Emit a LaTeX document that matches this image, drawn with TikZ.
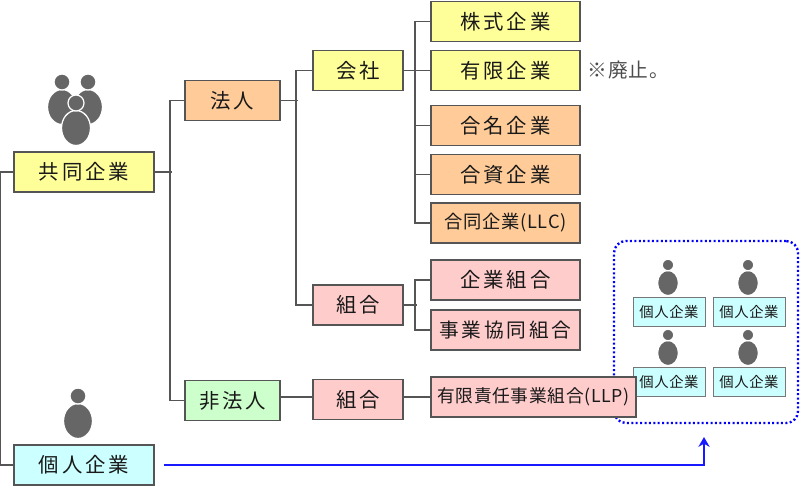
\documentclass[tikz,border=0pt]{standalone}
\usepackage{fontspec}
\newfontfamily\jpfont[LetterSpace=14]{Noto Sans CJK JP}
\newfontfamily\jpsmall[LetterSpace=4]{Noto Sans CJK JP}
\usetikzlibrary{arrows.meta,positioning}
\definecolor{linegray}{HTML}{555555}
\definecolor{icongray}{HTML}{666666}
\definecolor{yellowbox}{HTML}{FFFF99}
\definecolor{orangebox}{HTML}{FFCC99}
\definecolor{pinkbox}{HTML}{FFCCCC}
\definecolor{greenbox}{HTML}{CCFFCC}
\definecolor{cyanbox}{HTML}{CCFFFF}
\tikzset{%
	box/.style    = {draw=linegray, line width=1pt, rectangle, minimum height=1cm, inner sep=0pt, text=black!90, font=\jpfont\fontsize{14.5}{16}\selectfont, text centered},
	wide/.style   = {box, minimum width=3.5cm},
	mid/.style    = {box, minimum width=2.375cm},
	narrow/.style = {box, minimum width=2.25cm},
	kind/.style   = {box, minimum width=3.725cm},
	small/.style  = {draw=linegray!80, line width=0.7pt, fill=cyanbox, minimum width=1.8cm, minimum height=0.72cm, inner sep=0pt, text=black!90, font=\jpsmall\fontsize{10.2}{12}\selectfont},
	conn/.style   = {draw=linegray, line width=1.2pt},
	reach/.style  = {draw=blue!90!white, line width=1.2pt, -{Stealth[length=7pt,width=8pt]}},
}
% head and body of a person, #1 = x, #2 = y of the body, #3 = scale
\newcommand{\person}[3]{%
	\fill[icongray,draw=white,line width=0.9pt] (#1,#2) ellipse[x radius=14.5*#3,y radius=17.5*#3];
	\fill[icongray,draw=white,line width=0.9pt] (#1,#2-25*#3) circle[radius=8*#3];
}
\begin{document}
\begin{tikzpicture}[x=0.025cm,y=-0.025cm]
	\useasboundingbox (0,0) rectangle (800,487);

	% people
	\person{62}{107}{1}
	\person{88}{107}{1}
	\person{76}{128}{1}
	\person{78}{421}{1}
	\foreach \x/\y in {668/283,748/283,668/353,748/353} {\person{\x}{\y}{0.72}}

	% group on the right
	\node[draw=blue,line width=1.7pt,dash pattern=on 0.05cm off 0.06cm,rounded corners=0.3cm,minimum width=4.6cm,minimum height=4.55cm] (group) at (706,332) {};
	\node[small] (member1) at (669,312) {個人企業};
	\node[small] (member2) at (749,312) {個人企業};
	\node[small] (member3) at (669,382) {個人企業};
	\node[small] (member4) at (749,382) {個人企業};

	% left column
	\node[wide,fill=yellowbox] (kyodo) at (84,172) {共同企業};
	\node[wide,fill=cyanbox] (kojin) at (84,465) {個人企業};

	\node[mid,fill=orangebox] (hojin) at (232.5,100.5) {法人};
	\node[mid,fill=greenbox] (hihojin) at (232.5,400.5) {非法人};

	\node[narrow,fill=yellowbox] (kaisha) at (358,70.5) {会社};
	\node[narrow,fill=pinkbox] (kumiai) at (358,305) {組合};
	\node[narrow,fill=pinkbox] (kumiai2) at (358,399.5) {組合};

	\node[kind,fill=yellowbox] (kabushiki) at (505.5,21.5) {株式企業};
	\node[kind,fill=yellowbox] (yugen) at (505.5,70.5) {有限企業};
	\node[kind,fill=orangebox] (gomei) at (505.5,125.5) {合名企業};
	\node[kind,fill=orangebox] (goshi) at (505.5,174.5) {合資企業};
	\node[kind,fill=orangebox] (godo) at (505.5,223) {\jpsmall\fontsize{13}{15}\selectfont 合同企業(LLC)};
	\node[kind,fill=pinkbox] (jigyo) at (505.5,280) {企業組合};
	\node[kind,fill=pinkbox] (kyodokumiai) at (505.5,330) {\jpfont\fontsize{14}{16}\selectfont 事業協同組合};
	\node[box,fill=pinkbox,line width=1.3pt,minimum width=5.125cm,font=\jpsmall\fontsize{12.6}{14}\selectfont] (llp) at (533.5,397) {有限責任事業組合(LLP)};

	\node[right=0.05cm of yugen.east,text=black!70,font=\jpsmall\fontsize{14}{16}\selectfont] (haishi) {※廃止。};

	% tree
	\draw[conn] (kyodo.west) -- ++(-13,0) |- (kojin.west);
	\draw[conn] (hojin.west) -- ++(-14,0) |- (hihojin.west);
	\draw[conn] (kyodo.east) -- ++(17,0);
	\draw[conn] (kaisha.west) -- ++(-16,0) |- (kumiai.west);
	\draw[conn] (hojin.east) -- ++(17,0);
	\draw[conn] (kabushiki.west) -- ++(-15,0) |- (godo.west);
	\draw[conn] (kaisha.east) -- (yugen.west);
	\draw[conn] (gomei.west) -- ++(-15,0);
	\draw[conn] (goshi.west) -- ++(-15,0);
	\draw[conn] (jigyo.west) -- ++(-15,0) |- (kyodokumiai.west);
	\draw[conn] (kumiai.east) -- ++(13,0);
	\draw[conn] (hihojin.east |- llp.west) -- (kumiai2.west |- llp.west);
	\draw[conn] (kumiai2.east |- llp.west) -- (llp.west);

	% arrow to the group
	\coordinate (arrowtip) at (704,437);
	\draw[reach,shorten <=0.225cm] (kojin.east) -| (arrowtip);
\end{tikzpicture}
\end{document}
